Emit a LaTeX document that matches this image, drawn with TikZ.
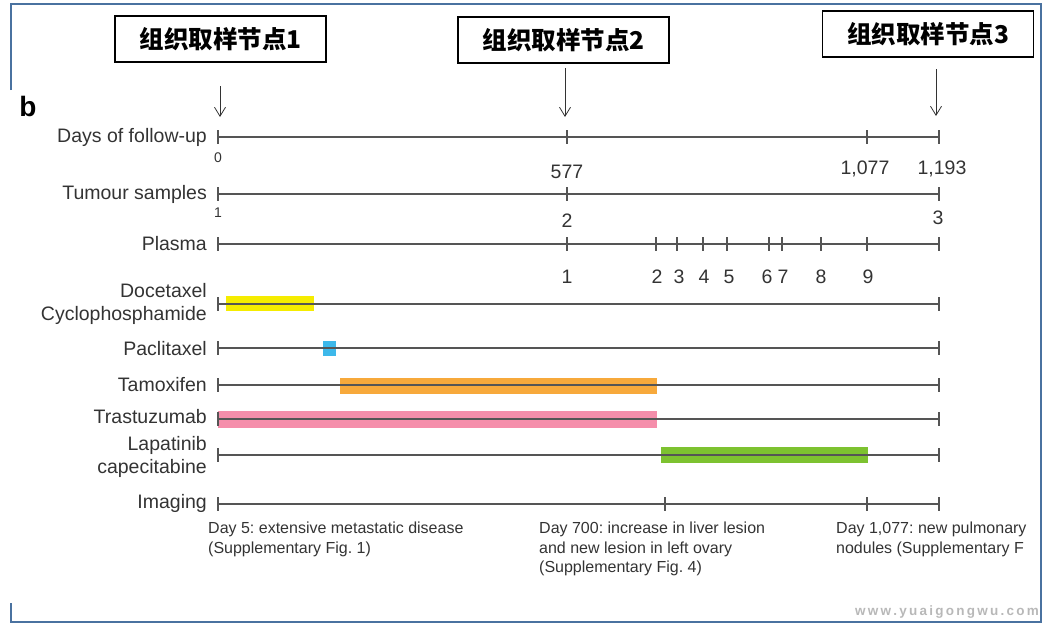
\documentclass[tikz,border=0pt]{standalone}
\usepackage{fontspec}
\setmainfont{Liberation Sans}
\newfontfamily\cjk{Noto Sans CJK SC}
\usetikzlibrary{arrows.meta}
\frenchspacing
\definecolor{framec}{HTML}{4A72A0}
\definecolor{linec}{HTML}{555555}
\definecolor{txtc}{HTML}{333333}
\definecolor{colYel}{HTML}{F5EC00}
\definecolor{colBlu}{HTML}{3DB8EA}
\definecolor{colOra}{HTML}{F7A93B}
\definecolor{colPin}{HTML}{F58EAB}
\definecolor{colGre}{HTML}{7DC230}
\tikzset{
  frame/.style={draw=framec,line width=2pt},
  cbox/.style={draw=black,line width=1.6pt,minimum width=211pt,minimum height=46pt,inner sep=0pt,font=\cjk\bfseries\fontsize{24.5}{28}\selectfont},
  arr/.style={draw=black!80,line width=0.9pt,-{Straight Barb[length=9pt,width=11pt,line width=0.8pt]}},
  tline/.style={draw=linec,line width=1.6pt},
  tick/.style={draw=linec,line width=1.4pt},
  rowlab/.style={anchor=east,text=txtc,align=right,inner sep=0pt,font=\fontsize{19.5}{23}\selectfont},
  num/.style={text=txtc,inner sep=0pt,font=\fontsize{19.5}{22}\selectfont},
  snum/.style={text=txtc,inner sep=0pt,font=\fontsize{14}{16}\selectfont},
  note/.style={anchor=north west,text=txtc,align=left,inner sep=0pt,font=\fontsize{16}{19.5}\selectfont},
}
\begin{document}
\begin{tikzpicture}[x=1pt,y=-1pt]
\useasboundingbox (0,0) rectangle (1045,624);
% frame
\draw[frame] (11,90) -- (11,4) -- (1041,4) -- (1041,622) -- (11,622) -- (11,603);
% boxes
\node[cbox] (b1) at (220.5,39) {组织取样节点1};
\node[cbox] (b2) at (563.5,40) {组织取样节点2};
\node[cbox] (b3) at (928,34) {组织取样节点3};
\coordinate (a1s) at (220,86); \coordinate (a1e) at (220,117);
\coordinate (a2s) at (565,68); \coordinate (a2e) at (565,117);
\coordinate (a3s) at (936,69); \coordinate (a3e) at (936,116);
\draw[arr] (a1s) -- (a1e);
\draw[arr] (a2s) -- (a2e);
\draw[arr] (a3s) -- (a3e);
% panel letter
\node[anchor=center,inner sep=0pt,font=\bfseries\fontsize{28}{30}\selectfont] (pb) at (28,106) {b};
% row labels
\node[rowlab] (l1) at (207,137) {Days of follow-up};
\node[rowlab] (l2) at (207,194) {Tumour samples};
\node[rowlab] (l3) at (207,244) {Plasma};
\node[rowlab] (l4) at (207,304) {Docetaxel\\Cyclophosphamide};
\node[rowlab] (l5) at (207,349) {Paclitaxel};
\node[rowlab] (l6) at (207,385) {Tamoxifen};
\node[rowlab] (l7) at (207,417) {Trastuzumab};
\node[rowlab] (l8) at (207,457) {Lapatinib\\capecitabine};
\node[rowlab] (l9) at (207,503) {Imaging};
% bars (drawn under lines)
\fill[colYel] (226,296) rectangle (314,311);
\fill[colBlu] (323,341) rectangle (336,356);
\fill[colOra] (340,378) rectangle (657,394);
\fill[colPin] (218,411) rectangle (657,428);
\fill[colGre] (661,447) rectangle (868,463);
% timelines
\foreach \y in {137,194,244,304,348,385,419,455,504}{
  \draw[tline] (218,\y) -- (939,\y);
  \draw[tick] (218,\y-7) -- (218,\y+7);
  \draw[tick] (939,\y-7) -- (939,\y+7);
}
% days ticks
\foreach \x in {567,867}{\draw[tick] (\x,130) -- (\x,144);}
\node[snum] (d0) at (218,158) {0};
\node[num] (d1) at (567,172) {577};
\node[num] (d2) at (865,169) {1,077};
\node[num] (d3) at (942,169) {1,193};
% tumour
\draw[tick] (567,187) -- (567,201);
\node[snum] (t1) at (218,213) {1};
\node[num] (t2) at (567,221) {2};
\node[num] (t3) at (938,218) {3};
% plasma
\foreach \x/\l/\lx in {567/1/567,656/2/657,677/3/679,703/4/704,727/5/729,769/6/767,782/7/783,821/8/821,867/9/868}{
  \draw[tick] (\x,237) -- (\x,251);
  \node[num] at (\lx,277) {\l};
}
% imaging
\foreach \x in {665,867}{\draw[tick] (\x,497) -- (\x,511);}
% notes
\node[note] (n1) at (208,522) {Day 5: extensive metastatic disease\\(Supplementary Fig. 1)};
\node[note] (n2) at (539,522) {Day 700: increase in liver lesion\\and new lesion in left ovary\\(Supplementary Fig. 4)};
\node[note] (n3) at (836,522) {Day 1,077: new pulmonary\\nodules (Supplementary F};
% watermark
\node[anchor=east,inner sep=0pt,text=black!28,font=\bfseries\fontsize{13.5}{15}\selectfont] (wm) at (1039,612) {w\,w\,w\,.\,y\,u\,a\,i\,g\,o\,n\,g\,w\,u\,.\,c\,o\,m};
\end{tikzpicture}
\end{document}
